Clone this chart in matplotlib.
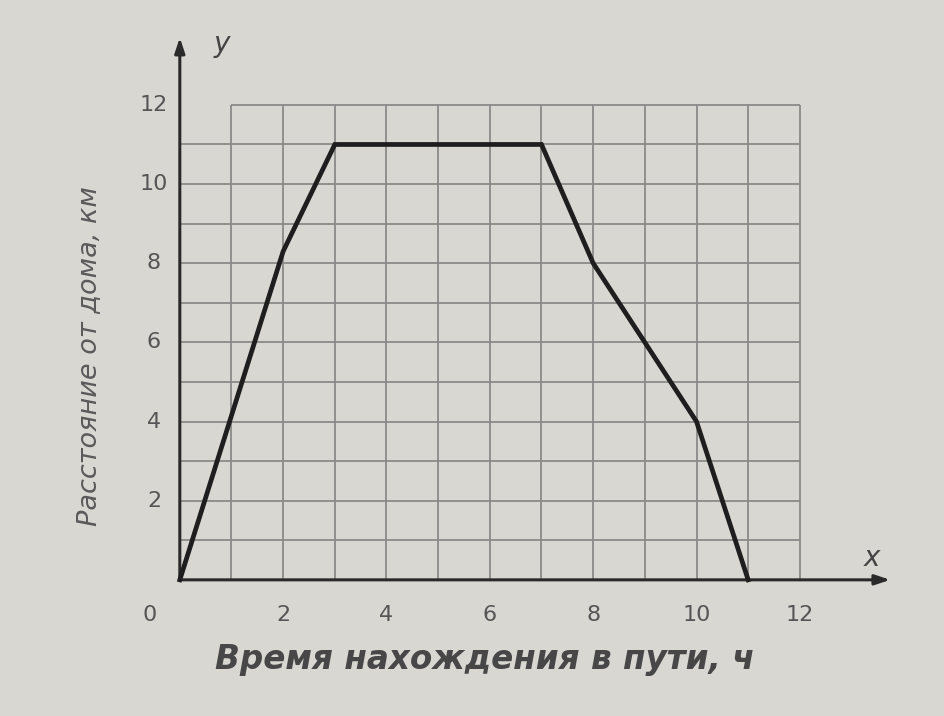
import numpy as np
import matplotlib
matplotlib.use("Agg")
import matplotlib.pyplot as plt

# distance-from-home graph (textbook style)
time_h = [0, 2, 3, 7, 8, 10, 11]
dist_km = [0, 8.3, 11, 11, 8, 4, 0]

x_ticks = [2, 4, 6, 8, 10, 12]
y_ticks = [2, 4, 6, 8, 10, 12]
grid_x = list(range(1, 13))
grid_y = list(range(1, 13))

xlabel = "Время нахождения в пути, ч"
ylabel = "Расстояние от дома, км"

bg = "#d8d7d2"
ink = "#2a2a2a"
gray = "#8a8a88"

fig = plt.figure(figsize=(9.44, 7.16), dpi=100, facecolor=bg)
ax = fig.add_axes([0, 0, 1, 1], facecolor=bg)
ax.set_xlim(-3.48, 14.79)
ax.set_ylim(-3.44, 14.65)
ax.set_axis_off()

# grid
for gx in grid_x:
    ax.vlines(gx, 0, 12, color=gray, lw=1.3, zorder=1)
for gy in grid_y:
    x0 = 1 if gy == 12 else 0
    ax.hlines(gy, x0, 12, color=gray, lw=1.3, zorder=1)

# axes with arrows
ax.annotate("", xy=(13.75, 0), xytext=(0, 0),
            arrowprops=dict(arrowstyle="-|>,head_length=0.9,head_width=0.3",
                            color=ink, lw=2.2, shrinkA=0, shrinkB=0), zorder=3)
ax.annotate("", xy=(0, 13.7), xytext=(0, 0),
            arrowprops=dict(arrowstyle="-|>,head_length=0.9,head_width=0.3",
                            color=ink, lw=2.2, shrinkA=0, shrinkB=0), zorder=3)

# graph
ax.plot(time_h, dist_km, color="#1e1e1e", lw=3.4, solid_joinstyle="miter", zorder=4)

# tick labels
for t in x_ticks:
    ax.text(t, -0.9, str(t), ha="center", va="center", fontsize=16, color="#555555")
ax.text(-0.58, -0.9, "0", ha="center", va="center", fontsize=16, color="#555555")
for t in y_ticks:
    ax.text(-0.5, t, str(t), ha="center", va="center", fontsize=16, color="#555555")

ax.text(13.4, 0.55, "x", ha="center", va="center", fontsize=20, style="italic", color="#444444")
ax.text(0.82, 13.55, "y", ha="center", va="center", fontsize=20, style="italic", color="#444444")

ax.text(5.9, -2.0, xlabel, ha="center", va="center", fontsize=23.5, style="italic",
        weight="bold", color="#474747", family="DejaVu Sans")
ax.text(-1.75, 5.65, ylabel, ha="center", va="center", fontsize=19.5, style="italic",
        rotation=90, color="#5a5a5a", family="DejaVu Sans")

fig.savefig("out.png", dpi=100, facecolor=bg)
